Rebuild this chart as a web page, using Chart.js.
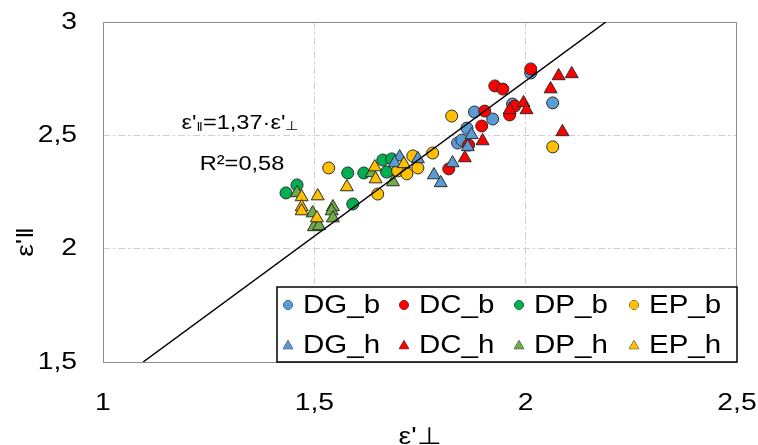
<!DOCTYPE html>
<html>
<head>
<meta charset="utf-8">
<script src="https://cdn.jsdelivr.net/npm/chart.js@4.4.1/dist/chart.umd.min.js"></script>
<style>
  html, body { margin: 0; padding: 0; background: #fff; }
  #c { display: block; }
</style>
</head>
<body>
<canvas id="c" width="758" height="445"></canvas>
<script>
// values: [ε'⊥, ε'‖]
const dgB = [[2.012, 2.775], [2.064, 2.643], [1.969, 2.638], [1.922, 2.572], [1.879, 2.603], [1.861, 2.532], [1.839, 2.466], [1.849, 2.479]];
const dcB = [[2.012, 2.793], [1.927, 2.718], [1.946, 2.704], [1.974, 2.629], [1.962, 2.590], [1.903, 2.607], [1.896, 2.541], [1.865, 2.457], [1.818, 2.352]];
const dpB = [[1.662, 2.391], [1.683, 2.396], [1.671, 2.338], [1.579, 2.334], [1.617, 2.334], [1.459, 2.281], [1.433, 2.246], [1.591, 2.197]];
const epB = [[1.534, 2.356], [1.650, 2.241], [1.697, 2.343], [1.719, 2.330], [1.745, 2.356], [1.733, 2.409], [1.780, 2.422], [1.825, 2.585], [2.064, 2.449]];
const dgH = [[1.872, 2.502], [1.863, 2.449], [1.827, 2.378], [1.783, 2.325], [1.799, 2.290], [1.745, 2.396], [1.702, 2.404], [1.690, 2.378]];
const dcH = [[2.078, 2.762], [2.109, 2.771], [2.059, 2.704], [1.962, 2.612], [1.995, 2.643], [2.002, 2.612], [1.898, 2.475], [2.087, 2.515], [1.856, 2.400]];
const dpH = [[1.636, 2.334], [1.686, 2.294], [1.459, 2.246], [1.496, 2.157], [1.544, 2.184], [1.541, 2.166], [1.544, 2.135], [1.499, 2.096], [1.511, 2.100]];
const epH = [[1.643, 2.360], [1.645, 2.307], [1.577, 2.272], [1.470, 2.228], [1.508, 2.232], [1.470, 2.184], [1.470, 2.166], [1.506, 2.135], [1.712, 2.374]];

const seriesNames = ['DG_b', 'DC_b', 'DP_b', 'EP_b', 'DG_h', 'DC_h', 'DP_h', 'EP_h'];
const seriesData = [dgB, dcB, dpB, epB, dgH, dcH, dpH, epH];
const seriesColors = ['#5b9bd5', '#ff0000', '#00b050', '#ffc000', '#5b9bd5', '#ff0000', '#70ad47', '#ffc000'];

// trendline through origin, slope from the chart label
const slope = 1.37;
const xTicks = [1, 1.5, 2, 2.5];
const yTicks = [1.5, 2, 2.5, 3];

const FONT = '"Liberation Sans", Arial, sans-serif';
const STRETCH = 1.18;
const comma = v => String(v).replace('.', ',');

const stretched = (ctx, text, x, y, align) => {
  ctx.save();
  ctx.translate(x, y);
  ctx.scale(STRETCH, 1);
  ctx.textAlign = align;
  ctx.fillText(text, 0, 0);
  ctx.restore();
};

// text runs with small subscripts, centred on cx
const runs = (ctx, parts, cx, baseline) => {
  let w = 0;
  parts.forEach(p => { ctx.font = `${p.size}px ${FONT}`; w += ctx.measureText(p.t).width * STRETCH; });
  let x = cx - w / 2;
  parts.forEach(p => {
    ctx.font = `${p.size}px ${FONT}`;
    ctx.save();
    ctx.translate(x, baseline + (p.dy || 0));
    ctx.scale(STRETCH, 1);
    ctx.textAlign = 'left';
    ctx.fillText(p.t, 0, 0);
    ctx.restore();
    x += ctx.measureText(p.t).width * STRETCH;
  });
};

const decor = {
  id: 'decor',
  beforeDatasetsDraw(chart) {
    const {ctx, chartArea: a} = chart;
    ctx.save();
    ctx.strokeStyle = '#8c8c8c';
    ctx.lineWidth = 1;
    ctx.strokeRect(a.left + 0.5, a.top + 0.5, a.right - a.left - 1, a.bottom - a.top);
    ctx.restore();
  },
  afterDraw(chart) {
    const {ctx, chartArea: a, scales} = chart;
    ctx.save();
    ctx.fillStyle = '#000';
    ctx.textBaseline = 'middle';
    ctx.font = `24px ${FONT}`;
    yTicks.forEach(v => stretched(ctx, comma(v), 77, scales.y.getPixelForValue(v), 'right'));
    xTicks.forEach(v => stretched(ctx, comma(v), scales.x.getPixelForValue(v), 403, 'center'));

    // axis titles
    ctx.font = `24px ${FONT}`;
    stretched(ctx, 'ε\'⊥', (a.left + a.right) / 2, 437, 'center');
    ctx.save();
    ctx.translate(26, (a.top + a.bottom) / 2 + 50);
    ctx.rotate(-Math.PI / 2);
    stretched(ctx, 'ε\'‖', 0, 0, 'center');
    ctx.restore();

    // fit annotation
    ctx.textBaseline = 'alphabetic';
    runs(ctx, [
      {t: 'ε\'', size: 20}, {t: '‖', size: 13, dy: 2}, {t: '=1,37·ε\'', size: 20}, {t: '⊥', size: 13, dy: 1}
    ], 240, 129);
    runs(ctx, [{t: 'R²=0,58', size: 20}], 242, 170);

    // legend box inside the plot
    const box = {left: 277, top: 287, right: a.right, bottom: a.bottom};
    ctx.fillStyle = '#fff';
    ctx.fillRect(box.left, box.top, box.right - box.left, box.bottom - box.top);
    ctx.strokeStyle = '#000';
    ctx.lineWidth = 1.5;
    ctx.strokeRect(box.left, box.top, box.right - box.left, box.bottom - box.top);
    const colX = [288, 404, 519, 634];
    const rowY = [305, 345];
    ctx.textBaseline = 'middle';
    ctx.font = `25px ${FONT}`;
    seriesNames.forEach((name, i) => {
      const x = colX[i % 4], y = rowY[Math.floor(i / 4)];
      ctx.fillStyle = seriesColors[i];
      ctx.strokeStyle = '#333';
      ctx.lineWidth = 1;
      Chart.helpers.drawPoint(ctx, {pointStyle: i < 4 ? 'circle' : 'triangle', radius: i < 4 ? 4.5 : 5.5, rotation: 0, borderWidth: 1}, x, i < 4 ? y : y + 1);
      ctx.fill();
      ctx.fillStyle = '#000';
      stretched(ctx, name, x + 15, y + 1, 'left');
    });
    ctx.restore();
  }
};

const datasets = seriesNames.map((name, i) => ({
  label: name,
  data: seriesData[i].map(([x, y]) => ({x, y})),
  backgroundColor: seriesColors[i],
  borderColor: '#2b2b2b',
  borderWidth: 1,
  pointStyle: i < 4 ? 'circle' : 'triangle',
  pointRadius: i < 4 ? 6 : 7.5,
  order: 20 - i
}));
datasets.push({
  label: 'fit',
  type: 'line',
  data: [{x: 1.5 / slope, y: 1.5}, {x: 3 / slope, y: 3}],
  borderColor: '#000',
  borderWidth: 1.5,
  pointRadius: 0,
  order: 0
});

const gridColor = ctx => (ctx.tick && (ctx.index === 0 || ctx.index === ctx.chart.scales[ctx.scale.id].ticks.length - 1)) ? 'rgba(0,0,0,0)' : '#d0d0d0';

new Chart(document.getElementById('c'), {
  type: 'scatter',
  data: {datasets},
  plugins: [decor],
  options: {
    responsive: false,
    devicePixelRatio: 1,
    animation: false,
    events: [],
    layout: {padding: {top: 22, right: 21, left: 0, bottom: 0}},
    plugins: {legend: {display: false}, tooltip: {enabled: false}},
    scales: {
      x: {
        type: 'linear', min: 1, max: 2.5,
        afterFit: s => { s.height = 83; },
        ticks: {display: false, stepSize: 0.5},
        grid: {color: gridColor, drawTicks: false, lineWidth: 1},
        border: {display: false, dash: [7, 3, 2, 3]}
      },
      y: {
        type: 'linear', min: 1.5, max: 3,
        afterFit: s => { s.width = 103; },
        ticks: {display: false, stepSize: 0.5},
        grid: {color: gridColor, drawTicks: false, lineWidth: 1},
        border: {display: false, dash: [7, 3, 2, 3]}
      }
    }
  }
});
</script>
</body>
</html>
